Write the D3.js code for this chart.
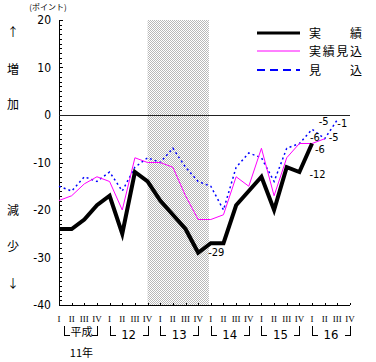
<!DOCTYPE html>
<html>
<head>
<meta charset="utf-8">
<script src="https://cdn.jsdelivr.net/npm/d3@7"></script>
<style>
  body { margin: 0; background: #fff; }
  svg { display: block; }
  text { fill: #000; }
</style>
</head>
<body>
<script>
// quarters 平成11年 I .. 平成16年 IV
var years = ["11", "12", "13", "14", "15", "16"];
var quarterNames = ["I", "II", "III", "IV"];

// 実績 (actual)
var jisseki = [-24, -24, -22, -19, -17, -25, -12, -14, -18, -21, -24, -29,
               -27, -27, -19, -16, -13, -20, -11, -12, -6];
// 実績見込
var jissekiMikomi = [-18, -17, -14.5, -13, -14, -20, -9, -10, -10, -11, -17, -22,
                     -22, -21, -13, -15, -7, -17, -9, -6, -6, -5];
// 見込
var mikomi = [-15, -16, -13, -14, -12, -16, -11, -9, -10, -7, -11, -14,
              -15, -20, -11, -8, -9, -14, -7, -6, -3, -5, -1];

var yTicks = [20, 10, 0, -10, -20, -30, -40];
var shade = [7, 11.85]; // 12年IV .. 13年末

var width = 376, height = 362;

var svg = d3.select("body").append("svg")
    .attr("width", width)
    .attr("height", height);

var x = d3.scaleLinear().domain([0, 23]).range([59, 350]);
var y = d3.scaleLinear().domain([-40, 20]).range([305, 20]);

var numFont = "'Liberation Sans Narrow','DejaVu Sans Condensed',sans-serif";
var jpFont = "'Noto Sans CJK JP',sans-serif";

// checker pattern for shaded period
var defs = svg.append("defs");
var pat = defs.append("pattern")
    .attr("id", "chk")
    .attr("width", 2).attr("height", 2)
    .attr("patternUnits", "userSpaceOnUse");
pat.append("rect").attr("width", 2).attr("height", 2).attr("fill", "#fff");
pat.append("rect").attr("width", 1).attr("height", 1).attr("fill", "#b8b8b8");
pat.append("rect").attr("x", 1).attr("y", 1).attr("width", 1).attr("height", 1).attr("fill", "#b8b8b8");

svg.append("rect")
    .attr("x", x(shade[0]))
    .attr("y", y(20))
    .attr("width", x(shade[1]) - x(shade[0]))
    .attr("height", y(-40) - y(20))
    .attr("fill", "url(#chk)");

// y axis with minor ticks on the inside
var yAxis = svg.append("g").attr("shape-rendering", "crispEdges");
yAxis.append("line")
    .attr("x1", x(0) + 0.5).attr("x2", x(0) + 0.5)
    .attr("y1", y(20)).attr("y2", y(-40))
    .attr("stroke", "#000");
yAxis.selectAll(".minor")
    .data(d3.range(-40, 21, 1))
    .enter().append("line")
    .attr("x1", x(0)).attr("x2", function(d) { return d % 10 === 0 ? x(0) + 4 : x(0) + 3; })
    .attr("y1", function(d) { return Math.round(y(d)) + 0.5; })
    .attr("y2", function(d) { return Math.round(y(d)) + 0.5; })
    .attr("stroke", "#000");

svg.selectAll(".ylab")
    .data(yTicks)
    .enter().append("text")
    .attr("x", 51)
    .attr("y", function(d) { return y(d) + 4; })
    .attr("text-anchor", "end")
    .style("font-family", numFont)
    .style("font-size", "12px")
    .text(function(d) { return d; });

svg.append("text")
    .attr("x", 48).attr("y", 10)
    .attr("text-anchor", "middle")
    .style("font-family", jpFont)
    .style("font-size", "8px")
    .text("(ポイント)");

// side labels
var side = [["↑", 33], ["増", 70], ["加", 105], ["減", 211], ["少", 247], ["↓", 284]];
svg.selectAll(".side")
    .data(side)
    .enter().append("text")
    .attr("x", 13)
    .attr("y", function(d) { return d[1] + 4; })
    .attr("text-anchor", "middle")
    .style("font-family", jpFont)
    .style("font-size", "12px")
    .text(function(d) { return d[0]; });

// zero line
svg.append("line")
    .attr("x1", x(0)).attr("x2", x(23))
    .attr("y1", Math.round(y(0)) + 0.5).attr("y2", Math.round(y(0)) + 0.5)
    .attr("stroke", "#222")
    .attr("shape-rendering", "crispEdges");

// x axis
var xAxis = svg.append("g").attr("shape-rendering", "crispEdges");
xAxis.append("line")
    .attr("x1", x(0)).attr("x2", x(23))
    .attr("y1", y(-40) + 0.5).attr("y2", y(-40) + 0.5)
    .attr("stroke", "#000");
xAxis.selectAll(".xt")
    .data(d3.range(24))
    .enter().append("line")
    .attr("x1", function(d) { return Math.round(x(d)) + 0.5; })
    .attr("x2", function(d) { return Math.round(x(d)) + 0.5; })
    .attr("y1", y(-40) - 2).attr("y2", y(-40))
    .attr("stroke", "#000");

svg.selectAll(".qlab")
    .data(d3.range(24))
    .enter().append("text")
    .attr("x", function(d) { return x(d); })
    .attr("y", 322)
    .attr("text-anchor", "middle")
    .style("font-family", "'Liberation Serif',serif")
    .style("font-size", "9px")
    .text(function(d) { return quarterNames[d % 4]; });

// year brackets
years.forEach(function(yr, i) {
  var x0 = i === 0 ? x(0) + 5 : x(i * 4);
  var x1 = x(i * 4 + 3);
  var g = svg.append("g").attr("shape-rendering", "crispEdges");
  g.append("path")
      .attr("d", "M" + (Math.round(x0) + 0.5) + ",326V335.5H" + (Math.round(x0) + 6))
      .attr("fill", "none").attr("stroke", "#000");
  g.append("path")
      .attr("d", "M" + (Math.round(x1) + 0.5) + ",326V335.5H" + (Math.round(x1) - 5))
      .attr("fill", "none").attr("stroke", "#000");
  if (i === 0) {
    g.append("text")
        .attr("x", (x0 + x1) / 2 + 1).attr("y", 336)
        .attr("text-anchor", "middle")
        .style("font-family", jpFont).style("font-size", "11px")
        .text("平成");
    g.append("text")
        .attr("x", (x0 + x1) / 2 + 1).attr("y", 357)
        .attr("text-anchor", "middle")
        .style("font-family", jpFont).style("font-size", "11px")
        .text("11年");
  } else {
    g.append("text")
        .attr("x", (x0 + x1) / 2).attr("y", 339)
        .attr("text-anchor", "middle")
        .style("font-family", numFont).style("font-size", "13px")
        .text(yr);
  }
});

// lines
var line = d3.line()
    .x(function(d, i) { return x(i); })
    .y(function(d) { return y(d); });

svg.append("path")
    .datum(mikomi)
    .attr("d", line)
    .attr("fill", "none")
    .attr("stroke", "#0000ff")
    .attr("stroke-width", 1.5)
    .attr("stroke-dasharray", "2,3");

svg.append("path")
    .datum(jissekiMikomi)
    .attr("d", line)
    .attr("fill", "none")
    .attr("stroke", "#ff00ff")
    .attr("stroke-width", 1);

svg.append("path")
    .datum(jisseki)
    .attr("d", line)
    .attr("fill", "none")
    .attr("stroke", "#000")
    .attr("stroke-width", 4);

// value labels
var labels = [
  { i: 11, v: jisseki[11], dx: 10, dy: 3 },
  { i: 19, v: jisseki[19], dx: 10, dy: 6 },
  { i: 20, v: jisseki[20], dx: 3, dy: 9 },
  { i: 20, v: jissekiMikomi[20], dx: -2, dy: -3 },
  { i: 21, v: jissekiMikomi[21], dx: 4, dy: 2 },
  { i: 21, v: mikomi[21], dx: -6, dy: -14 },
  { i: 22, v: mikomi[22], dx: 0, dy: 7 }
];
svg.selectAll(".vlab")
    .data(labels)
    .enter().append("text")
    .attr("x", function(d) { return x(d.i) + d.dx; })
    .attr("y", function(d) { return y(d.v) + d.dy; })
    .style("font-family", numFont)
    .style("font-size", "11px")
    .text(function(d) { return d.v; });

// legend
var legend = [
  { name: "実　　績", color: "#000", w: 3, dash: null, y: 33 },
  { name: "実績見込", color: "#ff00ff", w: 1, dash: null, y: 51 },
  { name: "見　　込", color: "#0000ff", w: 2, dash: "8,5", y: 70 }
];
var lg = svg.selectAll(".lg").data(legend).enter().append("g");
lg.append("line")
    .attr("x1", 257).attr("x2", 300)
    .attr("y1", function(d) { return d.y; })
    .attr("y2", function(d) { return d.y; })
    .attr("stroke", function(d) { return d.color; })
    .attr("stroke-width", function(d) { return d.w; })
    .attr("stroke-dasharray", function(d) { return d.dash; });
lg.append("text")
    .attr("x", 309)
    .attr("y", function(d) { return d.y + 5; })
    .style("font-family", jpFont)
    .style("font-size", "12px")
    .attr("textLength", 53)
    .text(function(d) { return d.name; });
</script>
</body>
</html>
